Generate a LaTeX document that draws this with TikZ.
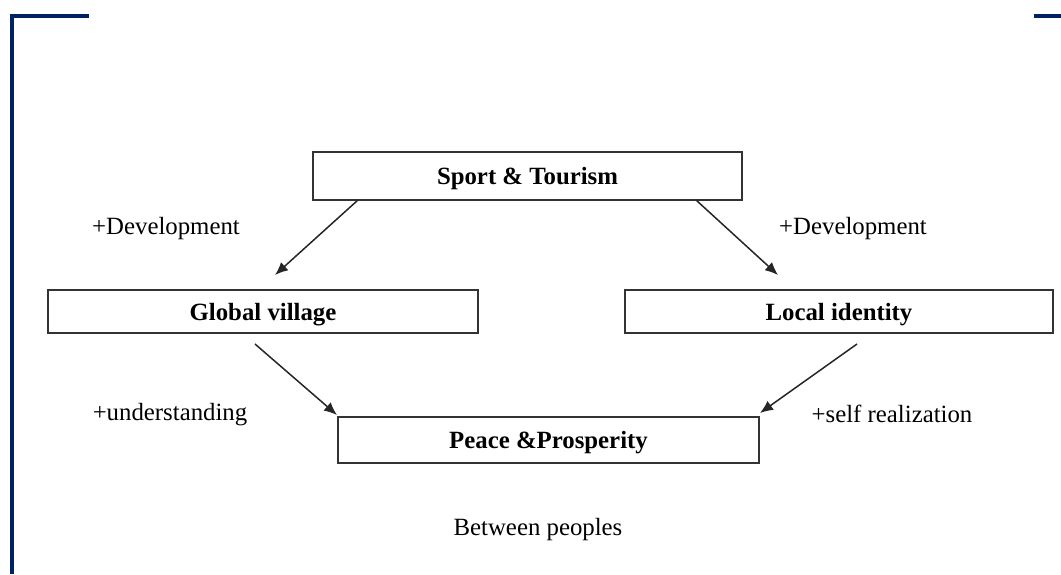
\documentclass[tikz,border=0pt]{standalone}
\usepackage{fontspec}
\setmainfont{Liberation Serif}
\usepackage{tikz}
\usetikzlibrary{arrows.meta}
\definecolor{framenavy}{RGB}{0,34,100}

\begin{document}
\begin{tikzpicture}[x=0.5pt,y=-0.5pt,
  every node/.style={font=\fontsize{12.4pt}{15pt}\selectfont},
  box/.style={draw=black!80,line width=0.9pt,inner sep=0pt,outer sep=0pt,text depth=0pt,font=\fontsize{12.4pt}{15pt}\selectfont\bfseries},
  arr/.style={-{Latex[length=6.5pt,width=5.5pt]},line width=0.75pt,draw=black!85},
  frame/.style={draw=framenavy,line width=1.6pt}]
\useasboundingbox (0,0) rectangle (1061,574);
\draw[frame] (12,574) -- (12,16) -- (89,16);
\draw[frame] (1034,16) -- (1061,16);
\node[box,minimum width=214.5pt,minimum height=24pt] (sport) at (527.5,176) {Sport \& Tourism};
\node[box,minimum width=215pt,minimum height=21.5pt] (global) at (263,311.5) {Global village};
\node[box,minimum width=214pt,minimum height=21.5pt] (local) at (839,311.5) {Local identity};
\node[box,minimum width=210.5pt,minimum height=23pt] (peace) at (548.5,440) {Peace \&Prosperity};
\node (devleft) at (166,229) {+Development};
\node (devright) at (853,229) {+Development};
\node (underst) at (170,415) {+understanding};
\node (selfreal) at (892,414) {+self realization};
\node (between) at (538,530) {Between peoples};
\draw[arr] ([xshift=22.5pt]sport.south west) -- ([xshift=113.5pt,yshift=7.5pt]global.north west);
\draw[arr] ([xshift=-23pt]sport.south east) -- ([xshift=76.5pt,yshift=7.5pt]local.north west);
\draw[arr] ([xshift=103.5pt,yshift=-5.5pt]global.south west) -- ([xshift=-0.5pt,yshift=1pt]peace.north west);
\draw[arr] ([xshift=116pt,yshift=-5.5pt]local.south west) -- ([xshift=0.5pt,yshift=2pt]peace.north east);
\end{tikzpicture}
\end{document}
